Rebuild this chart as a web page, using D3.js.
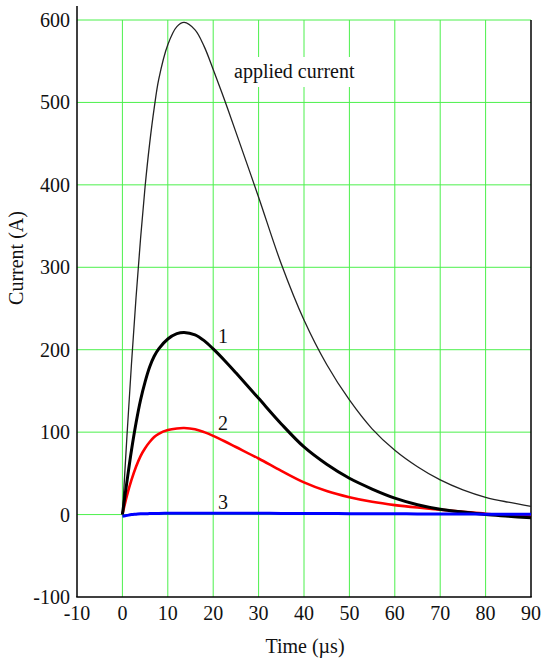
<!DOCTYPE html>
<html lang="en">
  <head>
    <meta charset="UTF-8" />
    <title>Current vs time</title>
    <script src="https://d3js.org/d3.v7.min.js"></script>
    <style>
      body {
        margin: 0;
        background: #ffffff;
      }
      svg text {
        font-family: "Liberation Serif", "DejaVu Serif", serif;
        fill: #111;
      }
      .grid line {
        stroke: #4cf04c;
        stroke-width: 1;
      }
      .curve {
        fill: none;
      }
    </style>
  </head>
  <body>
    <div id="chart"></div>
    <script>
    // Values
    const time = [0, 1, 2, 3, 4, 5, 6, 7, 8, 10, 12, 13.6, 16, 18, 20, 22.5, 25, 30, 35, 40, 45, 50, 55, 60, 65, 70, 75, 80, 85, 90];
    const applied = [0, 95, 183, 263, 335, 398, 450, 493, 528, 570, 592, 597, 588, 568, 540, 503, 464, 385, 304, 236, 182, 139, 104, 78, 58, 42, 30, 21, 15, 10];
    const curve1 = [0, 40, 78, 111, 139, 161, 179, 192, 201, 213, 219.5, 221, 218, 211, 201, 187, 172, 141, 110, 82, 61, 44, 31, 20, 12, 6.5, 3, 0, -2, -4];
    const curve2 = [0, 23, 42, 58, 71, 80.5, 88, 94, 98, 102.5, 104.5, 105, 103.5, 100, 95.5, 89, 82, 68, 53, 39, 28.5, 21, 15.5, 11.5, 8.5, 6, 3.5, 1, -0.5, -2];
    const curve3 = [-2, -1, 0, 0.5, 1, 1, 1.2, 1.3, 1.4, 1.5, 1.5, 1.5, 1.5, 1.5, 1.5, 1.5, 1.5, 1.5, 1.4, 1.3, 1.2, 1.1, 1, 0.9, 0.8, 0.7, 0.6, 0.5, 0.5, 0.5];
    const xTicks = [-10, 0, 10, 20, 30, 40, 50, 60, 70, 80, 90];
    const yTicks = [-100, 0, 100, 200, 300, 400, 500, 600];

    const W = 542, H = 658;
    const FONT = '"Liberation Serif", "DejaVu Serif", serif';
    const svg = d3.select("#chart")
        .append("svg")
        .attr("width", W)
        .attr("height", H)
        .attr("font-family", FONT);

    const x = d3.scaleLinear().domain([-10, 90]).range([77, 531]);
    const y = d3.scaleLinear().domain([-100, 600]).range([597, 20]);
    const yTop = 6;

    // grid
    const grid = svg.append("g").attr("class", "grid");
    grid.selectAll(".h")
        .data(yTicks.filter(d => d > -100))
        .enter().append("line")
        .attr("x1", x(-10)).attr("x2", x(90))
        .attr("y1", d => y(d)).attr("y2", d => y(d));
    grid.selectAll(".v")
        .data(xTicks.filter(d => d > -10 && d < 90))
        .enter().append("line")
        .attr("x1", d => x(d)).attr("x2", d => x(d))
        .attr("y1", y(600)).attr("y2", y(-100));

    // frame: left axis is taller, right border stops at 600
    svg.append("line")
        .attr("x1", x(-10)).attr("x2", x(-10))
        .attr("y1", yTop).attr("y2", y(-100))
        .attr("stroke", "#000").attr("stroke-width", 1.5);
    svg.append("line")
        .attr("x1", x(-10) - 0.75).attr("x2", x(90) + 0.75)
        .attr("y1", y(-100)).attr("y2", y(-100))
        .attr("stroke", "#000").attr("stroke-width", 1.5);
    svg.append("line")
        .attr("x1", x(90)).attr("x2", x(90))
        .attr("y1", y(600)).attr("y2", y(-100))
        .attr("stroke", "#000").attr("stroke-width", 1.5);

    // tick labels
    svg.selectAll(".ylab")
        .data(yTicks)
        .enter().append("text")
        .attr("x", 70)
        .attr("y", d => y(d) + 7)
        .attr("text-anchor", "end")
        .attr("font-size", "20px")
        .style("font-family", FONT)
        .text(d => d);
    svg.selectAll(".xlab")
        .data(xTicks)
        .enter().append("text")
        .attr("x", d => x(d))
        .attr("y", 620)
        .attr("text-anchor", "middle")
        .attr("font-size", "20px")
        .style("font-family", FONT)
        .text(d => d);

    // axis titles
    svg.append("text")
        .attr("transform", "translate(23, 258) rotate(-90)")
        .attr("text-anchor", "middle")
        .attr("font-size", "20px")
        .style("font-family", FONT)
        .text("Current (A)");
    svg.append("text")
        .attr("x", 305)
        .attr("y", 653)
        .attr("text-anchor", "middle")
        .attr("font-size", "20px")
        .style("font-family", FONT)
        .text("Time (\u00b5s)");

    // curves
    const line = d3.line()
        .x(d => x(d[0]))
        .y(d => y(d[1]))
        .curve(d3.curveCatmullRom.alpha(0.5));

    const series = [
        { values: applied, color: "#222", width: 1.3 },
        { values: curve2, color: "#ff0000", width: 2.6 },
        { values: curve1, color: "#000", width: 3 },
        { values: curve3, color: "#0000ff", width: 3 }
    ];

    svg.selectAll(".curve")
        .data(series)
        .enter().append("path")
        .attr("class", "curve")
        .attr("d", s => line(time.map((t, i) => [t, s.values[i]])))
        .attr("stroke", s => s.color)
        .attr("stroke-width", s => s.width)
        .attr("stroke-linejoin", "round");

    // label with white background
    const lbl = svg.append("g");
    lbl.append("rect")
        .attr("x", 230).attr("y", 57)
        .attr("width", 132).attr("height", 30)
        .attr("fill", "#fff");
    lbl.append("text")
        .attr("x", 234)
        .attr("y", 78)
        .attr("font-size", "20px")
        .style("font-family", FONT)
        .text("applied current");

    const curveLabels = [
        { t: "1", x: 223, y: 343 },
        { t: "2", x: 223, y: 430 },
        { t: "3", x: 223, y: 509 }
    ];
    svg.selectAll(".clab")
        .data(curveLabels)
        .enter().append("text")
        .attr("x", d => d.x)
        .attr("y", d => d.y)
        .attr("text-anchor", "middle")
        .attr("font-size", "20px")
        .style("font-family", FONT)
        .text(d => d.t);
    </script>
  </body>
</html>
